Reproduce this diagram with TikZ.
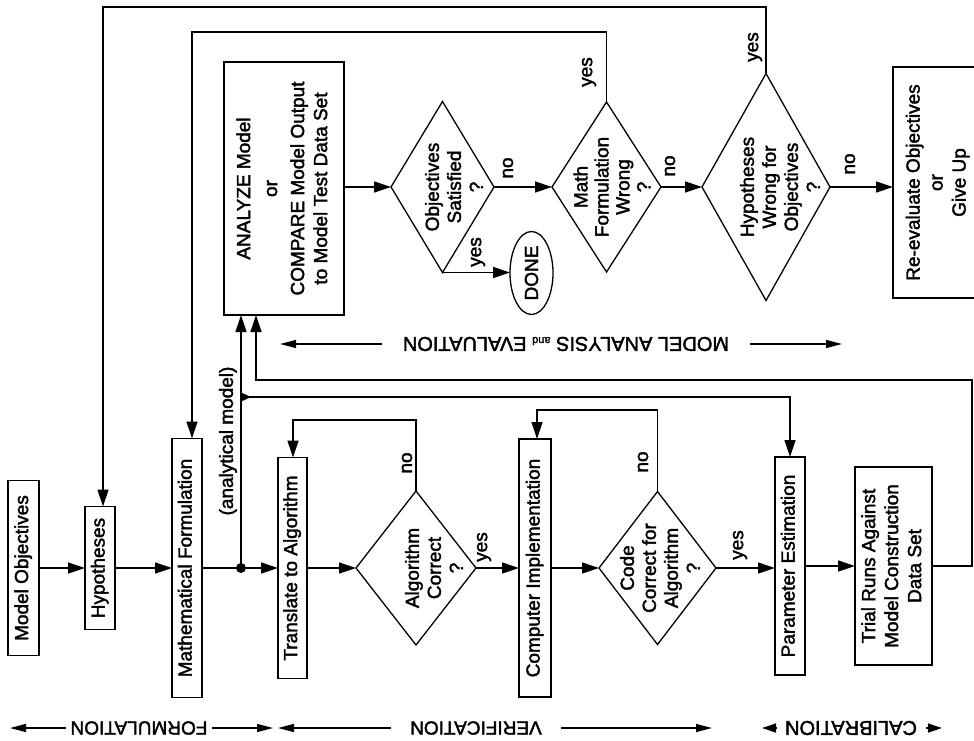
\documentclass[tikz,border=0pt]{standalone}
\usepackage{fontspec}
\setmainfont{Liberation Sans}[FakeBold=2]
\usetikzlibrary{arrows.meta,shapes.geometric,decorations.markings}
\newcommand{\rl}[1]{\rotatebox{90}{\begin{tabular}{@{}c@{}}#1\end{tabular}}}
\begin{document}
\begin{tikzpicture}[x=1pt,y=-1pt,line width=1.3pt,
  every node/.style={font=\fontsize{19}{23}\selectfont,inner sep=0pt,outer sep=0pt},
  box/.style={draw,rectangle},
  dia/.style={draw,diamond},
  dtxt/.style={rotate=90,align=center,font=\fontsize{19}{22}\selectfont},
  lbl/.style={rotate=90},
  arr/.style={-{Triangle[length=17pt,width=11pt]}},
  secarr/.style={-{Triangle[length=16pt,width=8pt]}},
  calarr/.style={-{Triangle[length=14pt,width=9pt]}},
  sec/.style={inner xsep=#1},
]
\useasboundingbox (0,0) rectangle (974,741);

% ---- lower row (formulation / verification / calibration)
\node[box,minimum width=31pt,minimum height=175pt] (mo) at (23.5,568) {\rl{Model Objectives}};
\node[box,minimum width=30pt,minimum height=123pt] (hyp) at (100,568) {\rl{Hypotheses}};
\node[box,minimum width=30pt,minimum height=259pt] (mf) at (187,568) {\rl{Mathematical Formulation}};
\node[circle,fill,minimum size=10pt] (dot) at (241,568) {};
\node[box,minimum width=29pt,minimum height=221pt] (ta) at (292.5,568) {\rl{Translate to Algorithm}};
\node[dia,minimum width=120pt,minimum height=154pt] (alg) at (416,568) {};
\node[dtxt] (algt) at (434,568) {Algorithm\\Correct\\?};
\node[box,minimum width=32pt,minimum height=258pt] (ci) at (535,568) {\rl{Computer Implementation}};
\node[dia,minimum width=117pt,minimum height=153pt] (code) at (657.5,568) {};
\node[dtxt] (codet) at (660,568) {Code\\Correct for\\Algorithm\\?};
\node[box,minimum width=30pt,minimum height=218pt] (pe) at (790,566) {\rl{Parameter Estimation}};
\node[box,minimum width=77pt,minimum height=198pt] (tr) at (893.5,566) {\rl{Trial Runs Against\\Model Construction\\Data Set}};

% ---- upper row (analysis and evaluation)
\node[box,minimum width=120pt,minimum height=253pt] (an) at (284,188.5) {\rl{ANALYZE Model\\[4pt] or\\[4pt] COMPARE Model Output\\to Model Test Data Set}};
\node[dia,minimum width=103pt,minimum height=171pt] (obj) at (442.5,187) {};
\node[dtxt] (objt) at (454,187) {Objectives\\Satisfied\\?};
\node[draw,ellipse,minimum width=43pt,minimum height=83pt] (done) at (531.5,273) {\rotatebox{90}{DONE}};
\node[dia,minimum width=109pt,minimum height=170pt] (math) at (606.5,187) {};
\node[dtxt,font=\fontsize{19}{21}\selectfont] (matht) at (612,187) {Math\\Formulation\\Wrong\\?};
\node[dia,minimum width=128pt,minimum height=227pt] (hypw) at (766,187) {};
\node[dtxt] (hypwt) at (780,187) {Hypotheses\\Wrong for\\Objectives\\?};
\node[box,minimum width=90pt,minimum height=231pt] (re) at (938,182.5) {\rl{Re-evaluate Objectives\\or\\Give Up}};

% ---- main flow
\draw[arr] (mo.east) -- (mo.east -| hyp.west);
\draw[arr] (hyp.east) -- (hyp.east -| mf.west);
\draw (mf.east) -- (dot.center);
\draw[arr] (dot.center) -- (dot.center -| ta.west);
\draw[arr] (ta.east) -- (alg.west);
\draw[arr] (alg.east) -- (alg.east -| ci.west);
\draw[arr] (ci.east) -- (code.west);
\draw[arr] (code.east) -- (code.east -| pe.west);
\draw[arr] (pe.east) -- (pe.east -| tr.west);

% analytical model path
\draw[arr] (dot.center) -- (dot.center |- an.south);
\node[lbl] (aml) at (228,441) {(analytical model)};
\coordinate (br) at (241,397);
\draw[arr,postaction={decorate},decoration={markings,mark=at position 10pt with {\arrow{Triangle[length=9pt,width=8pt]}}}] (br) -| (pe.north);

% trial runs loop back to analysis
\coordinate (trc) at (972,380);
\coordinate (trc2) at (256,380);
\draw[arr] (tr.east) -| (trc) -- (trc2) -- (trc2 |- an.south);

% verification loops
\coordinate (alc) at (293,420);
\draw[arr] (alg.north) |- (alc) -- (alc |- ta.north);
\coordinate (coc) at (537,410);
\draw[arr] (code.north) |- (coc) -- (coc |- ci.north);

% upper flow
\draw[arr] (an.east |- obj.west) -- (obj.west);
\draw[arr] (obj.east) -- (math.west);
\draw[arr] (obj.south) -- (obj.south -| done.west);
\draw[arr] (math.east) -- (hypw.west);
\draw[arr] (hypw.east) -- (hypw.east -| re.west);
\coordinate (mc) at (192,32);
\draw[arr] (math.north) |- (mc) -- (mc |- mf.north);
\coordinate (hc) at (103,7);
\draw[arr] (hypw.north) |- (hc) -- (hc |- hyp.north);

% yes / no labels
\node[lbl] (l1) at (407,463) {no};
\node[lbl] (l2) at (484,547) {yes};
\node[lbl] (l3) at (643,462) {no};
\node[lbl] (l4) at (740,545) {yes};
\node[lbl] (l5) at (508,168) {no};
\node[lbl] (l6) at (478,252) {yes};
\node[lbl] (l7) at (589,72) {yes};
\node[lbl] (l8) at (670,166) {no};
\node[lbl] (l9) at (755,47) {yes};
\node[lbl] (l10) at (850,164) {no};

% section labels
\node[sec=5pt] (form) at (139,728) {\rotatebox{180}{FORMULATION}};
\coordinate (fl) at (10,728); \coordinate (fr) at (273,728);
\draw[secarr] (form.west) -- (fl);
\draw[secarr] (form.east) -- (fr);
\node[sec=19pt] (ver) at (476,728) {\rotatebox{180}{VERIFICATION}};
\coordinate (vl) at (278,728); \coordinate (vr) at (712,728);
\draw[secarr] (ver.west) -- (vl);
\draw[secarr] (ver.east) -- (vr);
\node[sec=9pt,font=\fontsize{20}{22}\selectfont] (cal) at (851,728) {\rotatebox{180}{CALIBRATION}};
\coordinate (cl) at (762,728); \coordinate (cr) at (942,728);
\draw[calarr] (cal.west) -- (cl);
\draw[calarr] (cal.east) -- (cr);
\node[sec=21pt,font=\fontsize{20}{22}\selectfont] (mae) at (566,344) {\rotatebox{180}{MODEL ANALYSIS {\fontsize{11}{11}\selectfont and} EVALUATION}};
\coordinate (ml) at (280,344); \coordinate (mr) at (842,344);
\draw[secarr] (mae.west) -- (ml);
\draw[secarr] (mae.east) -- (mr);
\end{tikzpicture}
\end{document}
